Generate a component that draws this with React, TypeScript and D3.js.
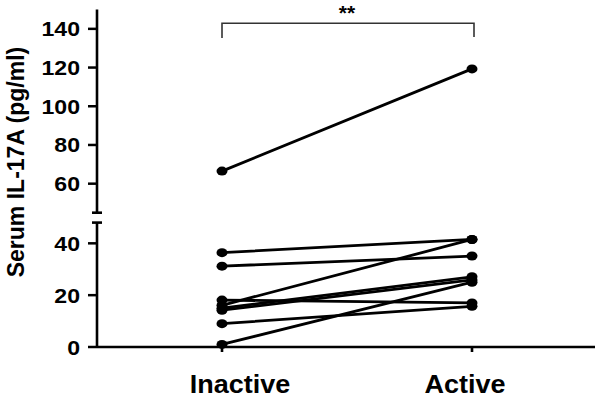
import React from 'react';
import * as d3 from 'd3';

const groups = ['Inactive', 'Active'];
// one entry per subject, paired
const inactive = [66.5, 36.4, 31.2, 18.1, 16.1, 15.0, 14.2, 9.0, 1.0];
const active = [119.3, 41.5, 35.1, 17.0, 41.5, 27.1, 25.9, 15.7, 25.0];
const upperTicks = [60, 80, 100, 120, 140];
const lowerTicks = [0, 20, 40];
const yTitle = 'Serum IL-17A (pg/ml)';
const sigLabel = '**';

const W = 600;
const H = 400;
const axisX = 97;
const axisY = 347;

const x = d3.scalePoint().domain(groups).range([97, 597]).padding(0.5);
const yUpper = d3.scaleLinear().domain([45, 150]).range([212.7, 9.5]);
const yLower = d3.scaleLinear().domain([0, 48]).range([axisY, 222.6]);
const breakAt = 45;
const y = (v: number) => (v >= breakAt ? yUpper(v) : yLower(v));

const font = 'Arial, "Liberation Sans", Helvetica, sans-serif';

const App = () => {
  const pairs = inactive.map((v, i) => [v, active[i]]);
  const tickRow = (scale: d3.ScaleLinear<number, number>, ticks: number[]) =>
    ticks.map(t => (
      <g key={t} transform={`translate(0,${scale(t)})`}>
        <line x1={axisX - 9} x2={axisX} stroke="#000" strokeWidth={2.5} />
        <text
          transform={`translate(${axisX - 17},7.5) scale(1.1,1)`}
          textAnchor="end"
          fontSize={21}
          fontWeight="bold"
        >
          {t}
        </text>
      </g>
    ));

  const xa = x('Inactive')!;
  const xb = x('Active')!;
  // title sits a little above the middle of the whole axis
  const titleY = (yUpper(148) + yLower(14)) / 2;

  return (
    <svg width={W} height={H} style={{ position: 'absolute', left: 0, top: 0, background: '#fff' }} fontFamily={font}>
      {/* y axis, broken */}
      <g stroke="#000" strokeWidth={2.6} fill="none">
        <line x1={axisX} x2={axisX} y1={yUpper.range()[1]} y2={yUpper.range()[0]} />
        <line x1={axisX - 5} x2={axisX + 5} y1={yUpper.range()[0]} y2={yUpper.range()[0]} />
        <line x1={axisX} x2={axisX} y1={yLower.range()[1]} y2={axisY} />
        <line x1={axisX - 5} x2={axisX + 5} y1={yLower.range()[1]} y2={yLower.range()[1]} />
        <line x1={axisX} x2={595} y1={axisY} y2={axisY} />
        {groups.map(g => (
          <line key={g} x1={x(g)} x2={x(g)} y1={axisY} y2={axisY + 5} />
        ))}
      </g>
      {tickRow(yUpper, upperTicks)}
      {tickRow(yLower, lowerTicks)}

      <text
        transform={`translate(24,${titleY}) rotate(-90)`}
        textAnchor="middle"
        fontSize={23}
        fontWeight="bold"
      >
        {yTitle}
      </text>

      {/* category labels */}
      <text transform={`translate(${xa + 18},393) scale(1.08,1)`} textAnchor="middle" fontSize={25} fontWeight="bold">
        {groups[0]}
      </text>
      <text transform={`translate(${xb - 7},393) scale(1.08,1)`} textAnchor="middle" fontSize={25} fontWeight="bold">
        {groups[1]}
      </text>

      {/* paired lines */}
      <g stroke="#000" strokeWidth={2.8} strokeLinecap="round">
        {pairs.map(([a, b], i) => (
          <line key={i} x1={xa} y1={y(a)} x2={xb} y2={y(b)} />
        ))}
      </g>
      <g fill="#000">
        {pairs.map(([a, b], i) => (
          <g key={i}>
            <ellipse cx={xa} cy={y(a)} rx={5.5} ry={4.5} />
            <ellipse cx={xb} cy={y(b)} rx={5.5} ry={4.5} />
          </g>
        ))}
      </g>

      {/* significance bracket */}
      <path
        d={`M${xa},38V23.3H${xb + 2}V37`}
        fill="none"
        stroke="#333"
        strokeWidth={1.6}
      />
      <text x={(xa + xb) / 2} y={19.5} textAnchor="middle" fontSize={21} fontWeight="bold">
        {sigLabel}
      </text>
    </svg>
  );
};

export default App;
